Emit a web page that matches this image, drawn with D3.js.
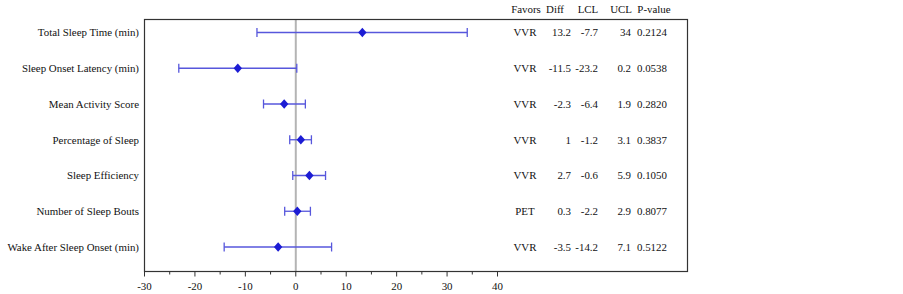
<!DOCTYPE html>
<html>
<head>
<meta charset="utf-8">
<script src="https://cdn.jsdelivr.net/npm/d3@7"></script>
<style>
  body { margin: 0; background: #fff; }
</style>
</head>
<body>
<div id="chart"></div>
<script>
const measures = ["Total Sleep Time (min)", "Sleep Onset Latency (min)", "Mean Activity Score",
  "Percentage of Sleep", "Sleep Efficiency", "Number of Sleep Bouts", "Wake After Sleep Onset (min)"];
const favors = ["VVR", "VVR", "VVR", "VVR", "VVR", "PET", "VVR"];
const diff = [13.2, -11.5, -2.3, 1, 2.7, 0.3, -3.5];
const lcl = [-7.7, -23.2, -6.4, -1.2, -0.6, -2.2, -14.2];
const ucl = [34, 0.2, 1.9, 3.1, 5.9, 2.9, 7.1];
const pvalue = ["0.2124", "0.0538", "0.2820", "0.3837", "0.1050", "0.8077", "0.5122"];
const xTicks = [-30, -20, -10, 0, 10, 20, 30, 40];

const width = 903, height = 294;
const frame = { left: 144.5, right: 687.5, top: 19.5, bottom: 271.5 };

const svg = d3.select("#chart").append("svg")
  .attr("width", width)
  .attr("height", height)
  .attr("font-family", "'Liberation Serif'")
  .attr("font-size", 10.9)
  .attr("fill", "#111");

const x = d3.scaleLinear().domain([-30, 40]).range([144.5, 497.5]);
const y = d3.scalePoint().domain(measures).range([32.5, 247]);

const data = measures.map((m, i) => ({
  measure: m, favors: favors[i], diff: diff[i], lcl: lcl[i], ucl: ucl[i], p: pvalue[i]
}));

// reference line at zero
svg.append("line")
  .attr("x1", x(0)).attr("x2", x(0))
  .attr("y1", frame.top).attr("y2", frame.bottom)
  .attr("stroke", "#b4b4b4").attr("stroke-width", 2);

// frame
svg.append("rect")
  .attr("x", frame.left).attr("y", frame.top)
  .attr("width", frame.right - frame.left)
  .attr("height", frame.bottom - frame.top)
  .attr("fill", "none").attr("stroke", "#333").attr("stroke-width", 1.2);

// x axis ticks (major + minor)
const axis = svg.append("g").attr("transform", `translate(0,${frame.bottom})`);
axis.selectAll(".minor").data(d3.range(-25, 40, 10)).join("line")
  .attr("x1", d => x(d)).attr("x2", d => x(d))
  .attr("y1", 0).attr("y2", 3)
  .attr("stroke", "#333");
axis.selectAll(".major").data(xTicks).join("line")
  .attr("x1", d => x(d)).attr("x2", d => x(d))
  .attr("y1", 0).attr("y2", 5)
  .attr("stroke", "#333");
axis.selectAll("text").data(xTicks).join("text")
  .attr("x", d => x(d)).attr("y", 18)
  .attr("text-anchor", "middle")
  .text(d => d);

// labels
svg.append("g").selectAll("text").data(data).join("text")
  .attr("x", 139).attr("y", d => y(d.measure))
  .attr("dy", "0.35em")
  .attr("text-anchor", "end")
  .text(d => d.measure);

// error bars
const bars = svg.append("g").attr("stroke", "#5757dc").attr("stroke-width", 1.3);
bars.selectAll(".ci").data(data).join("line")
  .attr("x1", d => x(d.lcl)).attr("x2", d => x(d.ucl))
  .attr("y1", d => y(d.measure)).attr("y2", d => y(d.measure));
["lcl", "ucl"].forEach(k => {
  bars.selectAll(".cap-" + k).data(data).join("line")
    .attr("x1", d => x(d[k])).attr("x2", d => x(d[k]))
    .attr("y1", d => y(d.measure) - 4.5).attr("y2", d => y(d.measure) + 4.5);
});

// diamonds
svg.append("g").selectAll("path").data(data).join("path")
  .attr("transform", d => `translate(${x(d.diff)},${y(d.measure)})`)
  .attr("d", "M0,-4.8L4.2,0L0,4.8L-4.2,0Z")
  .attr("fill", "#1c1cd4");

// table headers
const headers = [
  { t: "Favors", x: 526, a: "middle" },
  { t: "Diff", x: 555, a: "middle" },
  { t: "LCL", x: 588, a: "middle" },
  { t: "UCL", x: 632, a: "end" },
  { t: "P-value", x: 654, a: "middle" }
];
svg.append("g").selectAll("text").data(headers).join("text")
  .attr("x", d => d.x).attr("y", 9).attr("dy", "0.35em")
  .attr("text-anchor", d => d.a)
  .text(d => d.t);

// table columns
const cols = [
  { f: d => d.favors, x: 525, a: "middle" },
  { f: d => d.diff, x: 571, a: "end" },
  { f: d => d.lcl, x: 598, a: "end" },
  { f: d => d.ucl, x: 631, a: "end" },
  { f: d => d.p, x: 637, a: "start" }
];
cols.forEach(c => {
  svg.append("g").selectAll("text").data(data).join("text")
    .attr("x", c.x).attr("y", d => y(d.measure)).attr("dy", "0.35em")
    .attr("text-anchor", c.a)
    .text(c.f);
});
</script>
</body>
</html>
